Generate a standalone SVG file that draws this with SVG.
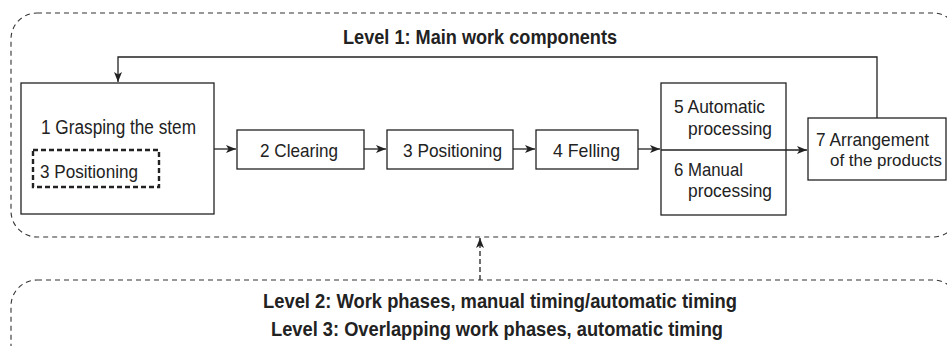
<svg xmlns="http://www.w3.org/2000/svg" width="947" height="346" viewBox="0 0 947 346">
<style>
.box{fill:#fff;stroke:#222;stroke-width:1.3}
.lvl{fill:none;stroke:#333;stroke-width:1.1;stroke-dasharray:5 4}
.t{font-family:"Liberation Sans",Arial,sans-serif;font-size:19px;fill:#222}
.b{font-family:"Liberation Sans",Arial,sans-serif;font-size:21px;font-weight:bold;fill:#222}
.c{fill:none;stroke:#222;stroke-width:1.3}
</style>
<defs>
<marker id="ah" viewBox="0 0 10 10" refX="10" refY="5" markerWidth="10" markerHeight="10" markerUnits="userSpaceOnUse" orient="auto">
<path d="M0,1 L10,5 L0,9 L2.5,5 Z" fill="#222"/>
</marker>
</defs>
<g id="level1">
<rect class="lvl" x="11" y="13" width="948" height="224" rx="26"/>
<text class="b" x="480" y="44" text-anchor="middle" textLength="274" lengthAdjust="spacingAndGlyphs">Level 1: Main work components</text>
</g>
<g id="level2">
<rect class="lvl" x="11" y="280" width="948" height="120" rx="26"/>
<text class="b" x="263" y="308" textLength="474" lengthAdjust="spacingAndGlyphs">Level 2: Work phases, manual timing/automatic timing</text>
<text class="b" x="271" y="336" textLength="452" lengthAdjust="spacingAndGlyphs">Level 3: Overlapping work phases, automatic timing</text>
</g>
<g id="n1">
<rect class="box" x="21" y="83" width="193" height="131"/>
<text class="t" x="41" y="134" style="font-size:20px" textLength="155" lengthAdjust="spacingAndGlyphs">1 Grasping the stem</text>
<rect x="33" y="150" width="126" height="37" fill="none" stroke="#222" stroke-width="2.4" stroke-dasharray="5 3"/>
<text class="t" x="40" y="178" textLength="98" lengthAdjust="spacingAndGlyphs">3 Positioning</text>
</g>
<g id="n2">
<rect class="box" x="237" y="130" width="127" height="39"/>
<text class="t" x="260" y="157" textLength="78" lengthAdjust="spacingAndGlyphs">2 Clearing</text>
</g>
<g id="n3">
<rect class="box" x="387" y="130" width="126" height="39"/>
<text class="t" x="403" y="157" textLength="99" lengthAdjust="spacingAndGlyphs">3 Positioning</text>
</g>
<g id="n4">
<rect class="box" x="536" y="130" width="102" height="39"/>
<text class="t" x="553" y="157" textLength="67" lengthAdjust="spacingAndGlyphs">4 Felling</text>
</g>
<g id="n56">
<rect class="box" x="661" y="83" width="125" height="132"/>
<text class="t" x="674" y="113" textLength="91" lengthAdjust="spacingAndGlyphs">5 Automatic</text>
<text class="t" x="688" y="135" textLength="84" lengthAdjust="spacingAndGlyphs">processing</text>
<text class="t" x="674" y="176" textLength="69" lengthAdjust="spacingAndGlyphs">6 Manual</text>
<text class="t" x="688" y="197" textLength="84" lengthAdjust="spacingAndGlyphs">processing</text>
</g>
<g id="n7">
<rect class="box" x="808" y="118" width="138" height="62"/>
<text class="t" x="816" y="146" textLength="113" lengthAdjust="spacingAndGlyphs">7 Arrangement</text>
<text class="t" x="830" y="166" style="font-size:17px" textLength="112" lengthAdjust="spacingAndGlyphs">of the products</text>
</g>
<g id="connectors">
<path class="c" d="M214,149 H236" marker-end="url(#ah)"/>
<path class="c" d="M364,149 H386" marker-end="url(#ah)"/>
<path class="c" d="M513,149 H535" marker-end="url(#ah)"/>
<path class="c" d="M638,149 H660" marker-end="url(#ah)"/>
<path class="c" d="M661,150 H807" marker-end="url(#ah)"/>
<path class="c" d="M877,118 V57 H118 V82" marker-end="url(#ah)"/>
<path class="c" d="M480,280 V238" stroke-dasharray="5 3" marker-end="url(#ah)"/>
</g>
</svg>
